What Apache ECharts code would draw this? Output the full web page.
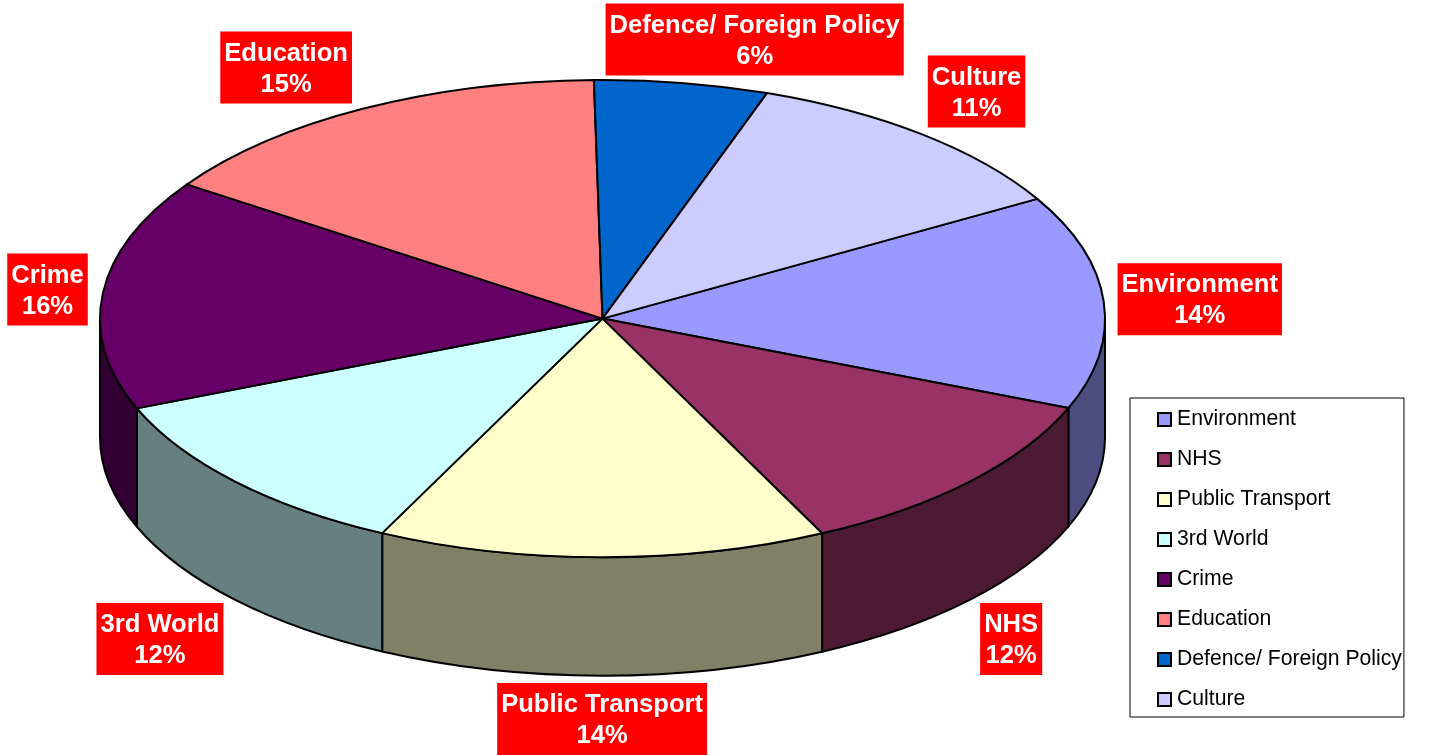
<!DOCTYPE html>
<html>
<head>
<meta charset="utf-8">
<style>html,body{margin:0;padding:0;background:#fff}#chart{width:1433px;height:755px}</style>
<script src="https://cdn.jsdelivr.net/npm/echarts@6/dist/echarts.min.js"></script>
</head>
<body>
<div id="chart"></div>
<script>
var categories = ['Environment', 'NHS', 'Public Transport', '3rd World', 'Crime', 'Education', 'Defence/ Foreign Policy', 'Culture'];
var values = [14.47, 11.69, 14.42, 11.64, 15.64, 15.22, 5.58, 11.33];
var topColors = ['#9999ff', '#993366', '#ffffcc', '#ccffff', '#660066', '#ff8080', '#0066cc', '#ccccff'];
var sideColors = ['#4d4d80', '#4d1a33', '#808066', '#668080', '#330033', '#804040', '#003366', '#666680'];
// label centre relative to the outer rim point at the slice's mid angle
var labelOffsets = [[96, -2.5], [41.4, 39], [0, 43.3], [-75.3, 39], [-55.3, -3.9], [-77.5, -41], [73, -43.4], [54.4, -42.9]];

var CX = 602.5, CY = 318.6, RX = 502.5, RY = 238.7, DEPTH = 118.4, START = -30.1;
var total = values.reduce(function (a, b) { return a + b; }, 0);

function rad(d) { return d * Math.PI / 180; }
function pt(a, dy) { return [CX + RX * Math.cos(rad(a)), CY + RY * Math.sin(rad(a)) + (dy || 0)]; }
function arcTo(from, to, p) {
  var sweep = to > from ? 1 : 0;
  var large = Math.abs(to - from) > 180 ? 1 : 0;
  return 'A' + RX + ' ' + RY + ' 0 ' + large + ' ' + sweep + ' ' + p[0] + ' ' + p[1];
}
function topPath(a0, a1) {
  var p0 = pt(a0), p1 = pt(a1);
  return 'M' + CX + ' ' + CY + 'L' + p0[0] + ' ' + p0[1] + arcTo(a0, a1, p1) + 'Z';
}
function sidePath(a0, a1) {
  var p0 = pt(a0), p1 = pt(a1), q0 = pt(a0, DEPTH), q1 = pt(a1, DEPTH);
  return 'M' + p0[0] + ' ' + p0[1] + arcTo(a0, a1, p1) + 'L' + q1[0] + ' ' + q1[1] + arcTo(a1, a0, q0) + 'Z';
}
function sliceRange(i) {
  var before = 0;
  for (var k = 0; k < i; k++) before += values[k];
  return [START + before / total * 360, START + (before + values[i]) / total * 360];
}

function withFill(color) { return { fill: color, stroke: '#000', lineWidth: 2, lineJoin: 'round' }; }

function labelStyle(x, y, text, boxed) {
  var s = {
    x: x,
    y: y,
    text: text,
    fill: boxed ? '#ff0000' : '#fff',
    font: 'bold 25.6px "Liberation Sans", Arial, sans-serif',
    lineHeight: 31,
    align: 'center',
    verticalAlign: 'middle'
  };
  if (boxed) {
    s.backgroundColor = '#ff0000';
    s.padding = [5, 4, 5, 4];
  }
  return s;
}

var series = categories.map(function (name, i) {
  return {
    name: name,
    type: 'custom',
    coordinateSystem: 'none',
    silent: true,
    animation: false,
    itemStyle: { color: topColors[i] },
    data: [[values[i]]],
    renderItem: function () {
      var r = sliceRange(i), a0 = r[0], a1 = r[1], mid = (a0 + a1) / 2;
      var children = [];
      var s0 = Math.max(a0, 0), s1 = Math.min(a1, 180);
      if (s1 > s0) {
        children.push({ type: 'path', shape: { pathData: sidePath(s0, s1) }, style: withFill(sideColors[i]) });
      }
      children.push({ type: 'path', shape: { pathData: topPath(a0, a1) }, style: withFill(topColors[i]) });
      var rim = pt(mid, Math.sin(rad(mid)) > 0 ? DEPTH : 0);
      var lx = rim[0] + labelOffsets[i][0], ly = rim[1] + labelOffsets[i][1];
      var text = name + '\n' + Math.round(values[i] / total * 100) + '%';
      children.push({ type: 'text', z2: 100, style: labelStyle(lx, ly, text, true) });
      children.push({ type: 'text', z2: 101, style: labelStyle(lx, ly + 1.5, text, false) });
      return { type: 'group', children: children };
    }
  };
});

var chart = echarts.init(document.getElementById('chart'), null, { renderer: 'canvas' });
chart.setOption({
  animation: false,
  backgroundColor: '#fff',
  tooltip: { show: false },
  legend: {
    orient: 'vertical',
    left: 1130,
    top: 398,
    data: categories,
    selectedMode: false,
    backgroundColor: '#fff',
    borderColor: '#000',
    borderWidth: 1,
    padding: [10, 2, 6, 27],
    itemGap: 17,
    itemWidth: 13,
    itemHeight: 13,
    icon: 'rect',
    itemStyle: { borderColor: '#000', borderWidth: 2 },
    textStyle: { color: '#000', fontSize: 21.2, fontFamily: '"Liberation Sans", Arial, sans-serif', height: 22, lineHeight: 22, padding: [1, 0, 0, 1] }
  },
  series: series
});
</script>
</body>
</html>
